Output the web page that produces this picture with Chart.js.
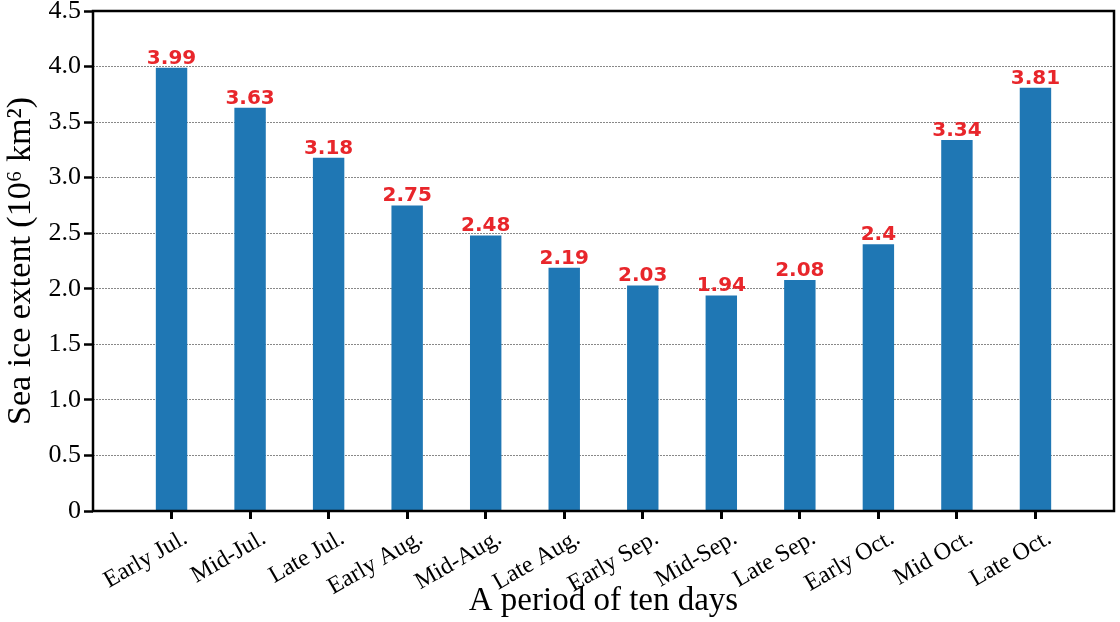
<!DOCTYPE html>
<html>
<head>
<meta charset="utf-8">
<script src="https://cdn.jsdelivr.net/npm/chart.js@4"></script>
<style>
  html, body { margin: 0; padding: 0; background: #fff; }
  #wrap { width: 1120px; height: 622px; }
</style>
</head>
<body>
<div id="wrap"><canvas id="myChart"></canvas></div>
<script>
// datos
var periodos = ['Early Jul.', 'Mid-Jul.', 'Late Jul.', 'Early Aug.', 'Mid-Aug.', 'Late Aug.',
  'Early Sep.', 'Mid-Sep.', 'Late Sep.', 'Early Oct.', 'Mid Oct.', 'Late Oct.'];
var extension = [3.99, 3.63, 3.18, 2.75, 2.48, 2.19, 2.03, 1.94, 2.08, 2.4, 3.34, 3.81];
var ticksY = [0, 0.5, 1.0, 1.5, 2.0, 2.5, 3.0, 3.5, 4.0, 4.5];

var serif = '"Liberation Serif", "Times New Roman", serif';

// valores en rojo encima de cada barra
const etiquetas = {
  id: 'etiquetas',
  afterDatasetsDraw(chart) {
    const ctx = chart.ctx;
    const meta = chart.getDatasetMeta(0);
    ctx.save();
    ctx.font = 'bold 20px "DejaVu Sans", sans-serif';
    ctx.fillStyle = '#e8262b';
    ctx.textAlign = 'center';
    ctx.textBaseline = 'alphabetic';
    meta.data.forEach((bar, i) => {
      ctx.fillText(String(extension[i]), bar.x, bar.y - 4);
    });
    // marco negro
    const a = chart.chartArea;
    ctx.strokeStyle = '#000';
    ctx.lineWidth = 2.5;
    ctx.strokeRect(a.left, a.top, a.right - a.left, a.bottom - a.top);
    ctx.restore();
  }
};

var data = {
  datasets: [{
    label: 'Sea ice extent',
    data: extension.map((v, i) => ({ x: i, y: v })),
    backgroundColor: '#1f77b4',
    borderWidth: 0,
    barPercentage: 0.4,
    categoryPercentage: 1
  }]
};

var config = {
  type: 'bar',
  data: data,
  options: {
    responsive: true,
    maintainAspectRatio: false,
    animation: false,
    layout: { padding: { top: 11, right: 6, left: 0, bottom: 0 } },
    plugins: { legend: { display: false }, tooltip: { enabled: false } },
    scales: {
      x: {
        type: 'linear',
        min: -1,
        max: 12,
        offset: false,
        afterBuildTicks: (s) => { s.ticks = s.ticks.filter(t => t.value >= 0 && t.value <= 11); },
        afterFit: (s) => { s.height = 111; },
        ticks: {
          stepSize: 1,
          autoSkip: false,
          minRotation: 30,
          maxRotation: 30,
          color: '#000',
          padding: 5,
          labelOffset: 14,
          font: { family: serif, size: 24 },
          callback: (v) => periodos[v] || ''
        },
        grid: { offset: false, drawOnChartArea: false, drawTicks: true, tickLength: 8, tickColor: '#000', tickWidth: 3 },
        border: { display: false },
        title: {
          display: true,
          text: 'A period of ten days',
          color: '#000',
          font: { family: serif, size: 33 },
          padding: { top: 0, bottom: 1 }
        }
      },
      y: {
        min: 0,
        max: 4.5,
        afterFit: (s) => { s.width = 93; },
        afterBuildTicks: (s) => { s.ticks = ticksY.map(v => ({ value: v })); },
        ticks: {
          color: '#000',
          padding: 3,
          font: { family: serif, size: 26, lineHeight: 0.6 },
          callback: (v) => v === 0 ? '0' : v.toFixed(1)
        },
        grid: { color: '#888', lineWidth: 1, tickLength: 9, tickColor: '#000', tickWidth: 2.5 },
        border: { display: false, dash: [2, 1] },
        title: {
          display: true,
          text: 'Sea ice extent (10\u2076 km\u00B2)',
          color: '#000',
          font: { family: serif, size: 34 },
          padding: { top: 1, bottom: 0 }
        }
      }
    }
  },
  plugins: [etiquetas]
};

var myChart = new Chart(document.getElementById('myChart'), config);
</script>
</body>
</html>
